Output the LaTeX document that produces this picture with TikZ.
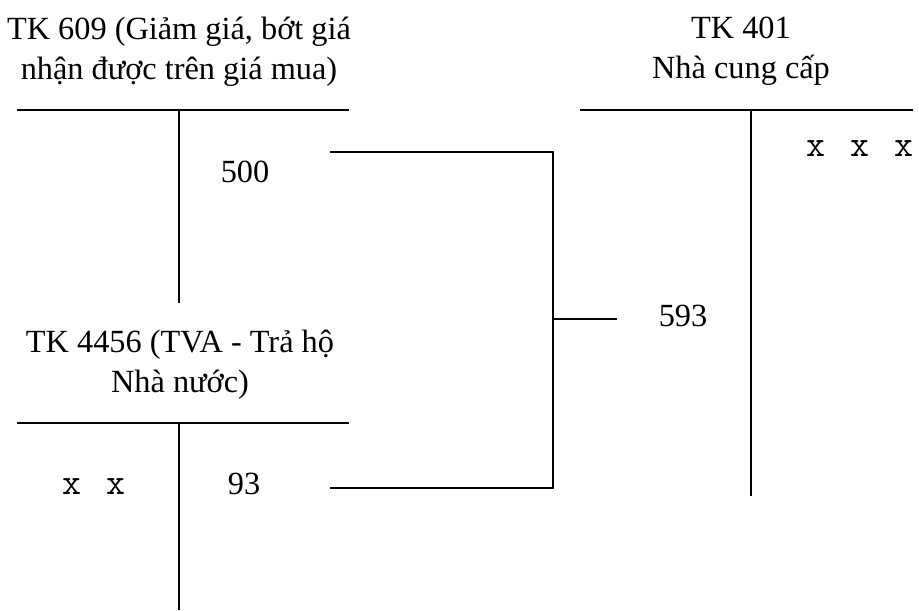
\documentclass[tikz,border=0pt]{standalone}
\usepackage{fontspec}
\setmainfont{Liberation Serif}
\usetikzlibrary{calc}
\newcommand{\gap}{\hspace{0.51cm}}
\tikzset{
  tk/.style={black,line width=0.85pt},
  noi/.style={black,line width=0.85pt},
  ten/.style={align=center,font=\fontsize{18.4}{22.7}\selectfont,inner sep=0pt},
  so/.style={font=\fontsize{18.4}{22}\selectfont,inner sep=0pt},
  xx/.style={font=\fontsize{21}{24}\selectfont\ttfamily,inner sep=0pt},
}

\begin{document}
\begin{tikzpicture}[x=0.02cm,y=-0.02cm]
  \useasboundingbox (0,0) rectangle (919,610);
  % tai khoan 609
  \draw[tk] (17,110)--(349,110);
  \draw[tk] (179,110)--(179,303);
  \node[ten] (t609) at (179,52) {TK 609 (Giảm giá, bớt giá\\nhận được trên giá mua)};
  \node[so] (n500) at (245,172) {500};
  % tai khoan 401
  \draw[tk] (580,110)--(913,110);
  \draw[tk] (751,110)--(751,496);
  \node[ten] (t401) at (741,51) {TK 401\\Nhà cung cấp};
  \node[xx] (x401) at (860,149) {x\gap x\gap x};
  \node[so] (n593) at (683,316) {593};
  % tai khoan 4456
  \draw[tk] (17,423)--(349,423);
  \draw[tk] (179,423)--(179,610);
  \node[ten] (t4456) at (180,365) {TK 4456 (TVA - Trả hộ\\Nhà nước)};
  \node[xx] (x4456) at (94,487) {x\gap x};
  \node[so] (n93) at (244,484) {93};
  % dinh khoan
  \coordinate (c500) at (330,152);
  \coordinate (c93) at (330,488);
  \coordinate (cj) at (553,319);
  \coordinate (c593) at (617,319);
  \draw[noi] (c500) -| (cj) |- (c93);
  \draw[noi] (cj) -- (c593);
\end{tikzpicture}
\end{document}
